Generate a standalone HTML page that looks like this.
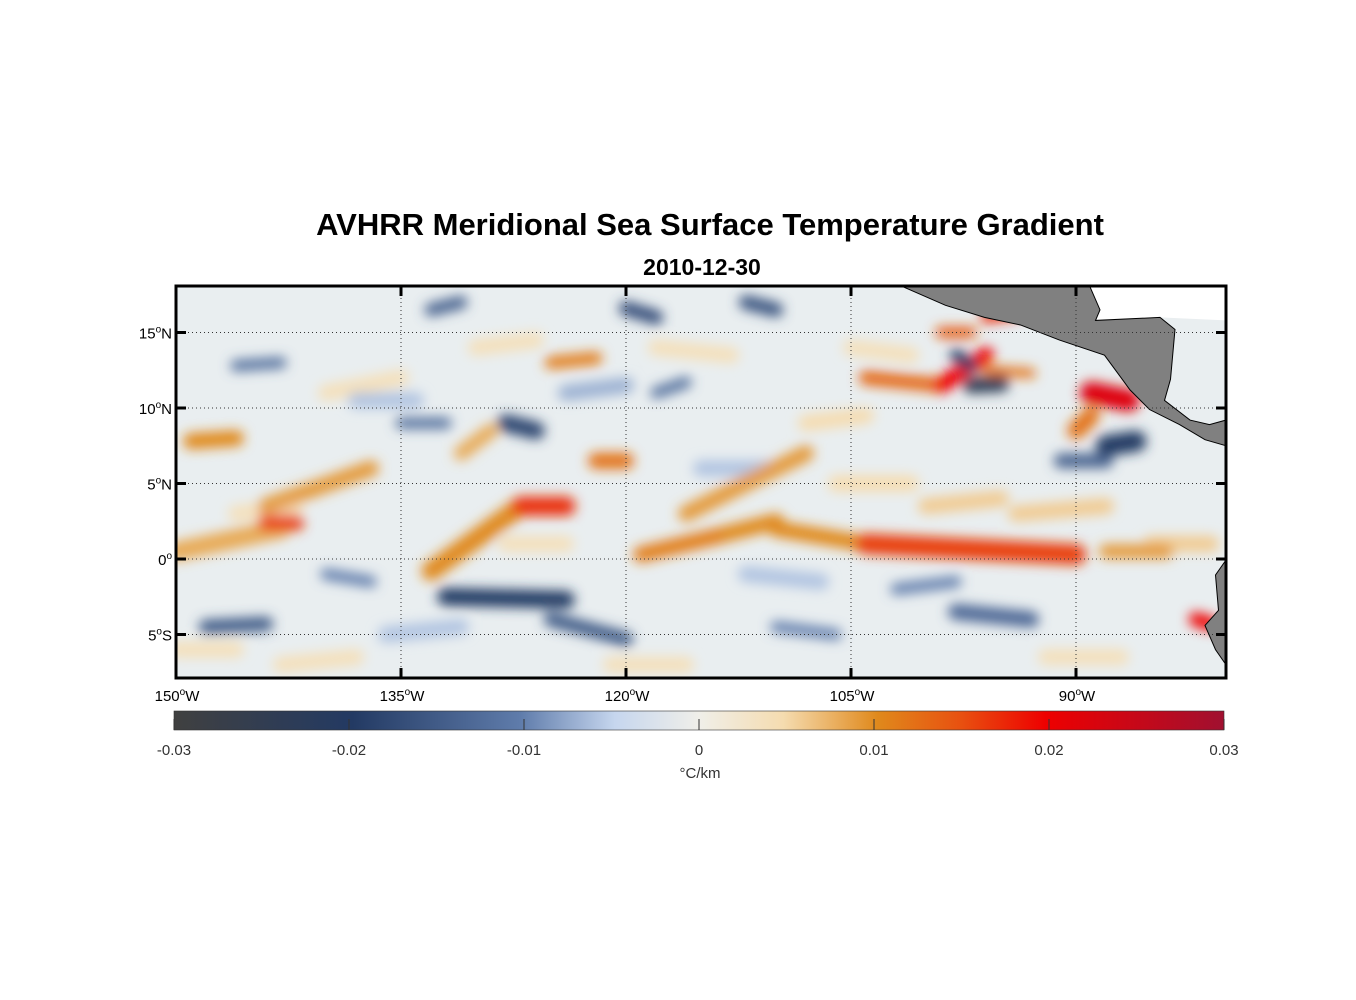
<!DOCTYPE html>
<html><head><meta charset="utf-8">
<style>
body{margin:0;background:#fff;width:1356px;height:1000px;overflow:hidden;font-family:"Liberation Sans",sans-serif;}
svg{position:absolute;left:0;top:0}
</style></head>
<body>
<svg id="chart" width="1356" height="1000">
<defs>
<clipPath id="mapclip"><rect x="176" y="286" width="1050" height="392"/></clipPath>
<filter id="blur" x="-50%" y="-50%" width="200%" height="200%"><feGaussianBlur stdDeviation="6"/></filter>
<linearGradient id="cbgrad" x1="0" x2="1" y1="0" y2="0">
<stop offset="0" stop-color="#404040"/>
<stop offset="0.17" stop-color="#233a63"/>
<stop offset="0.33" stop-color="#5f7cab"/>
<stop offset="0.42" stop-color="#c6d6ee"/>
<stop offset="0.5" stop-color="#f0efe9"/>
<stop offset="0.58" stop-color="#f5dcb0"/>
<stop offset="0.67" stop-color="#e0891c"/>
<stop offset="0.75" stop-color="#e85010"/>
<stop offset="0.83" stop-color="#ee0000"/>
<stop offset="1" stop-color="#a01030"/>
</linearGradient>
</defs>
<text x="710" y="235" text-anchor="middle" font-size="31" font-weight="bold">AVHRR Meridional Sea Surface Temperature Gradient</text>
<text x="702" y="275" text-anchor="middle" font-size="23" font-weight="bold">2010-12-30</text>
<g clip-path="url(#mapclip)">
<rect x="176" y="286" width="1050" height="392" fill="#e9eef0"/>
<g id="features" filter="url(#blur)"></g>
<g id="land"></g>
</g>
<g id="grid"></g>
<rect x="176" y="286" width="1050" height="392" fill="none" stroke="#000" stroke-width="3"/>
<g id="labels" font-size="15"></g>
<rect x="174" y="711" width="1050" height="19" fill="url(#cbgrad)" stroke="#333" stroke-width="0.6"/>
<g id="cbticks" font-size="15" fill="#333"></g>
<text x="700" y="778" text-anchor="middle" font-size="15" fill="#333">°C/km</text>
</svg>
<script>
const featLon1=[-150,-144,-144,-149,-133,-127,-122,-125,-119,-114,-116,-110,-104,-104,-99,-96,-99,-89,-90,-82,-131,-96,-88,
 -132,-148,-125,-98,-97,-88,-91,-128,-135,-120,-112,-133,-146,-98,-102,-118,-140,-110,-87,
 -140,-118,-108,-146,-136,-112,-100,-124,-94,-150,-130,-115,-105,-85,-143,-121,-106,-138,-128,-92];
const featLat1=[0.5,2.4,3.5,7.8,-0.8,3.5,6.5,13,0.3,1.5,3,2,1,12,11.5,16,15,11,8.5,-4,7,12.5,0.5,
 -2.5,-4.5,-4,13.5,11.5,7.5,6.5,9,9,16.6,17,16.5,12.8,-3.5,-2,11,-1,-4.5,14,
 11,14,9,3,-5,-1,3.5,11,3,-6,14,6,14,1,-7,-7,5,10.5,1,-6.5];
const featLon2=[-143,-142,-137,-146,-127,-124,-120,-122,-114,-110,-108,-104,-90,-99,-96,-94,-97,-86.5,-89,-81,-129,-93,-84,
 -124,-144,-120,-97,-95,-86,-88,-126,-132,-118,-110,-131,-143,-93,-98,-116,-137,-106,-85,
 -135,-113,-104,-142,-131,-107,-95,-120,-88,-146,-126,-110,-101,-81,-138,-116,-101,-134,-124,-87];
const featLat2=[2,2.4,6,8,3.5,3.5,6.5,13.3,1.5,2.5,7,1,0.3,11.5,13.5,16.3,15,10.5,9.5,-4.3,8.5,12.3,0.5,
 -2.7,-4.3,-5.3,12.8,11.6,7.8,6.5,8.5,9,16,16.5,17,13,-4,-1.5,11.7,-1.5,-5,14.5,
 12,13.5,9.5,3.5,-4.5,-1.5,4,11.5,3.5,-6,14.5,6,13.5,1,-6.5,-7,5,10.5,1,-6.5];
const featVal=[0.008,0.016,0.009,0.01,0.01,0.017,0.012,0.011,0.011,0.01,0.009,0.01,0.016,0.013,0.02,0.018,0.014,0.022,0.012,0.02,0.008,0.012,0.009,
 -0.02,-0.015,-0.015,-0.02,-0.024,-0.02,-0.014,-0.018,-0.012,-0.017,-0.016,-0.014,-0.012,-0.013,-0.01,-0.012,-0.01,-0.01,-0.008,
 0.004,0.004,0.005,0.004,-0.006,-0.006,0.006,-0.007,0.006,0.004,0.004,-0.006,0.004,0.006,0.004,0.004,0.005,-0.006,0.004,0.004];
const featSpread=[1.2,1,1,1,1.2,1.2,1,0.8,1,1,1,1,1.3,0.9,1,0.7,0.7,1.4,1.1,0.9,0.9,0.6,0.9,
 1.1,0.9,0.9,0.8,1,1.3,0.9,1.1,0.7,0.9,0.9,0.8,0.7,1,0.7,0.7,0.7,0.7,0.7,
 1,1,1,1,1,1,1,1,1,1,1,1,1,1,1,1,1,1,1,1];
const landLon=[-101.7,-89.1,-88.4,-88.7,-84.4,-83.4,-83.7,-84.1,-82.4,-81.1,-80,-80,-81.4,-83.1,-85.1,-86.4,-88.1,-91.1,-93.7,-96.1,-98.7];
const landLat=[18.1,18.1,16.5,15.8,16,15.2,11.9,10.5,9.2,8.9,9.2,7.5,7.9,8.9,9.9,11.2,13.5,14.5,15.5,16,16.8];
const nodataLon=[-89.1,-80,-80,-84.4,-88.7,-88.4];
const nodataLat=[18.1,18.1,15.8,16,15.8,16.5];
const saLon=[-80,-80.7,-80.5,-81.4,-80.7,-80];
const saLat=[-0.07,-1.06,-3.4,-4.4,-6,-7];
const lonTicks=[-150,-135,-120,-105,-90];
const latTicks=[15,10,5,0,-5];
const cbTicks=[-0.03,-0.02,-0.01,0,0.01,0.02,0.03];

const NS='http://www.w3.org/2000/svg';
const X=lon=>176+(lon+150)*15;
const Y=lat=>559-lat*15.1;
const CB=v=>174+(v+0.03)/0.06*1050;
const stops=[[-0.03,[64,64,64]],[-0.02,[35,58,99]],[-0.01,[95,124,171]],[-0.005,[198,214,238]],[0,[240,239,233]],[0.005,[245,220,176]],[0.01,[224,137,28]],[0.015,[232,80,16]],[0.02,[238,0,0]],[0.03,[160,16,48]]];
function cmap(v){v=Math.max(-0.03,Math.min(0.03,v));for(let i=0;i<stops.length-1;i++){const a=stops[i],b=stops[i+1];if(v<=b[0]){const t=(v-a[0])/(b[0]-a[0]);const c=a[1].map((x,j)=>Math.round(x+(b[1][j]-x)*t));return `rgb(${c})`;}}return 'rgb(160,16,48)';}
function mk(t,attrs,parent){const e=document.createElementNS(NS,t);for(const k in attrs)e.setAttribute(k,attrs[k]);parent.appendChild(e);return e;}

const fg=document.getElementById('features');
const order=featVal.map((v,i)=>i).sort((a,b)=>Math.abs(featVal[a])-Math.abs(featVal[b]));
order.forEach(i=>{
 const l=mk('line',{x1:X(featLon1[i]),y1:Y(featLat1[i]),x2:X(featLon2[i]),y2:Y(featLat2[i]),stroke:cmap(featVal[i]),'stroke-width':featSpread[i]*16,'stroke-linecap':'round'},fg);
 
 
});
const lg=document.getElementById('land');
const p0=mk('polygon',{points:nodataLon.map((v,i)=>X(v)+','+Y(nodataLat[i])).join(' '),fill:'#ffffff'},lg);


const p1=mk('polygon',{points:landLon.map((v,i)=>X(v)+','+Y(landLat[i])).join(' '),fill:'#808080',stroke:'#000','stroke-width':1},lg);


const p2=mk('polygon',{points:saLon.map((v,i)=>X(v)+','+Y(saLat[i])).join(' '),fill:'#808080',stroke:'#000','stroke-width':1},lg);



const gg=document.getElementById('grid'),lb=document.getElementById('labels');
lonTicks.forEach(v=>{
 const x=X(v);
 const g=mk('line',{x1:x,y1:286,x2:x,y2:678,stroke:'#333','stroke-width':1,'stroke-dasharray':'1,3'},gg);
 
 
 mk('line',{x1:x,y1:286,x2:x,y2:296,stroke:'#000','stroke-width':3},gg);
 mk('line',{x1:x,y1:668,x2:x,y2:678,stroke:'#000','stroke-width':3},gg);
 const t=mk('text',{x:x+1,y:701,'text-anchor':'middle'},lb);
 t.innerHTML=Math.abs(v)+'<tspan dy="-6" font-size="10">o</tspan><tspan dy="6">W</tspan>';
 
 
});
latTicks.forEach(v=>{
 const y=Y(v);
 const g=mk('line',{x1:176,y1:y,x2:1226,y2:y,stroke:'#333','stroke-width':1,'stroke-dasharray':'1,3'},gg);
 
 
 mk('line',{x1:176,y1:y,x2:186,y2:y,stroke:'#000','stroke-width':3},gg);
 mk('line',{x1:1216,y1:y,x2:1226,y2:y,stroke:'#000','stroke-width':3},gg);
 const t=mk('text',{x:172,y:y+6,'text-anchor':'end'},lb);
 t.innerHTML=Math.abs(v)+'<tspan dy="-6" font-size="10">o</tspan><tspan dy="6">'+(v>0?'N':v<0?'S':'')+'</tspan>';
 
 
});
const cb=document.getElementById('cbticks');
cbTicks.forEach(v=>{
 const x=CB(v);
 mk('line',{x1:x,y1:719,x2:x,y2:730,stroke:'#333','stroke-width':1},cb);
 const t=mk('text',{x:x,y:755,'text-anchor':'middle'},cb);
 t.textContent=v===0?'0':String(v);
 
 
});
</script>
</body></html>
